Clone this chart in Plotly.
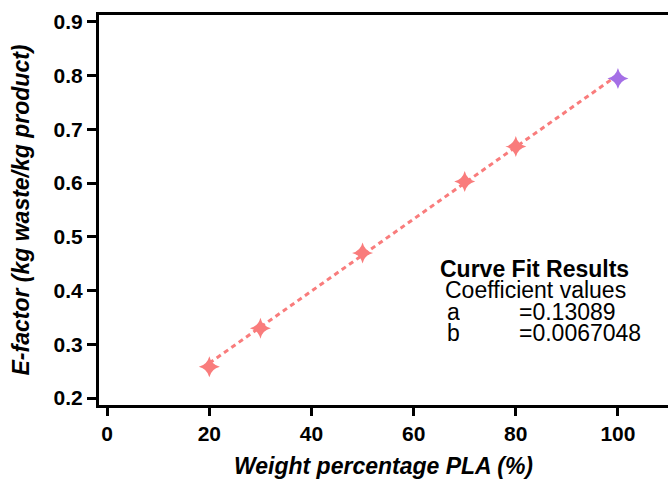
import plotly.graph_objects as go

wt_pla = [20, 30, 50, 70, 80]
efactor = [0.258, 0.330, 0.470, 0.603, 0.668]
wt_pla_pure = [100]
efactor_pure = [0.795]
coef_a = 0.13089
coef_b = 0.0067048
fit_x = [20, 100]
fit_y = [coef_a + coef_b * x for x in fit_x]

x_ticks = [0, 20, 40, 60, 80, 100]
y_ticks = [0.2, 0.3, 0.4, 0.5, 0.6, 0.7, 0.8, 0.9]

salmon = "#f97c7c"
purple = "#a46fe6"

fig = go.Figure()
fig.add_trace(go.Scatter(x=fit_x, y=fit_y, mode="lines",
                         line=dict(color=salmon, width=3, dash="5px,4px"),
                         showlegend=False, hoverinfo="skip"))
fig.add_trace(go.Scatter(x=wt_pla, y=efactor, mode="markers",
                         marker=dict(symbol="star-diamond", size=15, color=salmon),
                         showlegend=False))
fig.add_trace(go.Scatter(x=wt_pla_pure, y=efactor_pure, mode="markers",
                         marker=dict(symbol="star-diamond", size=15, color=purple),
                         showlegend=False))

fam = "Liberation Sans, Arial, sans-serif"

fig.update_layout(
    width=668, height=484,
    margin=dict(l=99, r=0, t=15, b=79),
    plot_bgcolor="white", paper_bgcolor="white",
    font=dict(family=fam, size=21, color="black"),
    xaxis=dict(range=[-1.6, 109.8], tickvals=x_ticks,
               ticktext=["<b>%d</b>" % v for v in x_ticks],
               showline=True, linecolor="black", linewidth=3, mirror=True,
               ticks="outside", ticklen=8, tickwidth=3, tickcolor="black",
               showgrid=False, zeroline=False,
               tickfont=dict(family=fam, size=21, color="black"),
               title=dict(text="<b><i>Weight percentage PLA (%)</i></b>", standoff=14,
                          font=dict(family=fam, size=23, color="black"))),
    yaxis=dict(range=[0.187, 0.913], tickvals=y_ticks,
               ticktext=["<b>%.1f</b>" % v for v in y_ticks],
               showline=True, linecolor="black", linewidth=3,
               ticks="outside", ticklen=9, tickwidth=3, tickcolor="black",
               showgrid=False, zeroline=False,
               tickfont=dict(family=fam, size=21, color="black"),
               title=dict(text="<b><i>E-factor (kg waste/kg product)</i></b>", standoff=18,
                          font=dict(family=fam, size=23, color="black"))),
)

ann_font = dict(family=fam, size=23, color="black")
annots = [
    ("<b>Curve Fit Results</b>", 534, 268, "center"),
    ("Coefficient values", 535, 289, "center"),
    ("a", 453, 311, "center"),
    ("=0.13089", 518, 311, "left"),
    ("b", 453, 332, "center"),
    ("=0.0067048", 518, 332, "left"),
]
for txt, px, py, anc in annots:
    fig.add_annotation(x=(px - 99) / (668 - 99), y=(405 - py) / (405 - 15),
                       xref="paper", yref="paper", text=txt, showarrow=False,
                       font=ann_font, xanchor=anc, yanchor="middle",
                       height=19, borderpad=0)

fig.write_html("out.html")
